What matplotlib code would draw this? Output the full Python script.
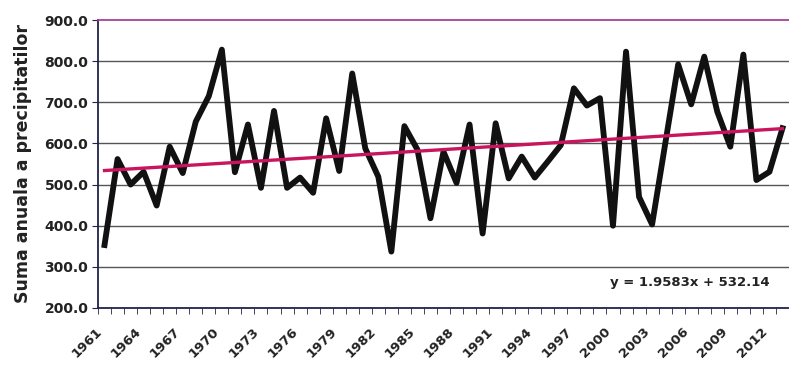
import numpy as np
import matplotlib.pyplot as plt
import matplotlib.transforms as mtransforms

# annual precipitation sums
years = np.arange(1961, 2014)
precip = [353, 562, 500, 531, 449, 592, 528, 653, 715, 828,
          530, 646, 492, 679, 492, 517, 480, 661, 533, 770,
          588, 519, 337, 642, 585, 418, 580, 504, 646, 381,
          649, 515, 568, 517, 556, 596, 734, 692, 710, 400,
          823, 470, 403, 598, 792, 695, 811, 677, 592, 816,
          511, 531, 637]
slope = 1.9583
intercept = 532.14
yticks = [200, 300, 400, 500, 600, 700, 800, 900]

plt.rcParams['font.family'] = ['DejaVu Sans']

x = np.arange(1, len(years) + 1)
trend = slope * x + intercept

fig = plt.figure(figsize=(7.89, 3.76), dpi=100)
ax = fig.add_axes([0.1242, 0.1809, 0.8758, 0.7659])

for v in yticks[1:-1]:
    ax.axhline(v, color='#555555', lw=1.0, zorder=1)

ax.plot(x, precip, color='#111111', lw=4.2, solid_joinstyle='round', zorder=3)
ax.plot(x, trend, color='#c8155e', lw=2.4, zorder=4)

ax.set_xlim(0.5, 53.0)
ax.set_ylim(200, 900)
ax.set_yticks(yticks)
ax.set_yticklabels([f'{v:.1f}' for v in yticks], fontsize=10, fontweight='bold', color='#222222')

ax.set_xticks(x[::3])
ax.set_xticklabels([str(y) for y in years[::3]], rotation=45, ha='right',
                   rotation_mode='anchor', fontsize=9.5, fontweight='bold', color='#222222')
ax.set_xticks(np.arange(0.5, 54, 1), minor=True)
ax.tick_params(axis='x', which='major', length=0, pad=12)
ax.tick_params(axis='x', which='minor', length=4, direction='out', color='#22224a')
ax.tick_params(axis='y', length=4, direction='out', color='#22224a', pad=3)

# shift the rotated year labels a little to the left, as in the original
shift = mtransforms.ScaledTranslation(-9 / 100, 0, fig.dpi_scale_trans)
for lab in ax.get_xticklabels():
    lab.set_transform(lab.get_transform() + shift)

ax.set_ylabel('Suma anuala a precipitatilor', fontsize=12.5, fontweight='bold',
              color='#222222', labelpad=9)

for s in ['left', 'bottom']:
    ax.spines[s].set_color('#22224a')
    ax.spines[s].set_linewidth(1.3)
ax.spines['top'].set_color('#a8409c')
ax.spines['top'].set_linewidth(1.3)
ax.spines['right'].set_visible(False)

ax.text(0.9725, 0.087, f'y = {slope:.4f}x + {intercept:.2f}', transform=ax.transAxes,
        ha='right', va='center', fontsize=9.5, fontweight='bold', color='#222222')

fig.savefig('out.png', dpi=100)
